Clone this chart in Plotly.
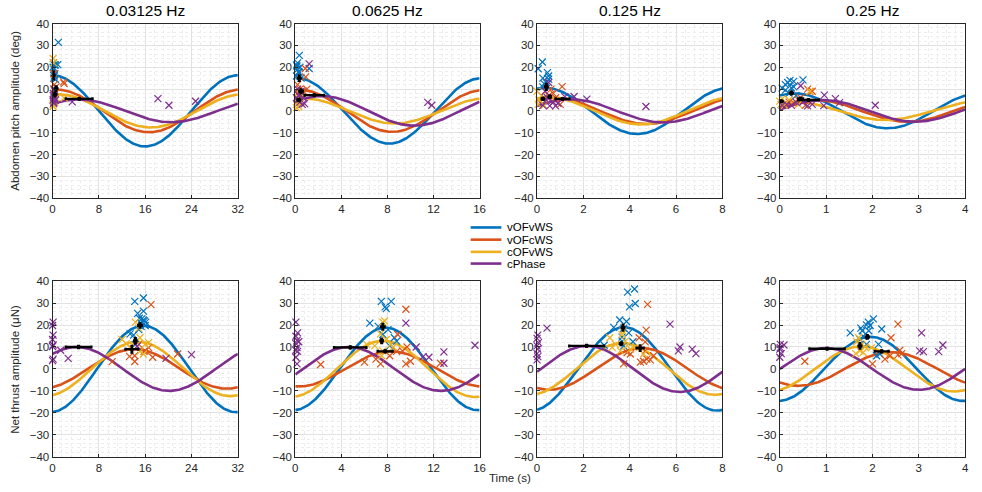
import numpy as np
import plotly.graph_objects as go

# ---------------- data ----------------
freq_labels = ["0.03125 Hz", "0.0625 Hz", "0.125 Hz", "0.25 Hz"]
periods = [32, 16, 8, 4]
x_ticks = [[0, 8, 16, 24, 32], [0, 4, 8, 12, 16], [0, 2, 4, 6, 8], [0, 1, 2, 3, 4]]
y_ticks = [-40, -30, -20, -10, 0, 10, 20, 30, 40]
series_names = ["vOFvWS", "vOFcWS", "cOFvWS", "cPhase"]
series_colors = ["#0072BD", "#D95319", "#EDB120", "#7E2F8E"]
row_labels = ["Abdomen pitch amplitude (deg)", "Net thrust amplitude (\u03bcN)"]

# fitted sinusoid amplitude and phase (fraction of period at peak), per frequency
pitch_amp_vOFvWS = [16.3, 15.0, 10.6, 8.0]
pitch_amp_vOFcWS = [9.8, 9.6, 6.0, 5.0]
pitch_amp_cOFvWS = [7.6, 5.8, 6.2, 4.2]
pitch_amp_cPhase = [5.2, 6.8, 5.3, 5.0]
pitch_ph_vOFvWS = [0.0, 0.01, 0.04, 0.08]
pitch_ph_vOFcWS = [0.02, 0.025, 0.09, 0.19]
pitch_ph_cOFvWS = [0.03, 0.04, 0.06, 0.07]
pitch_ph_cPhase = [0.14, 0.145, 0.18, 0.23]

thrust_amp_vOFvWS = [19.7, 18.8, 19.0, 14.6]
thrust_amp_vOFcWS = [9.0, 8.0, 9.5, 7.7]
thrust_amp_cOFvWS = [12.4, 12.8, 11.8, 10.3]
thrust_amp_cPhase = [10.0, 10.0, 10.5, 9.5]
thrust_ph_vOFvWS = [0.49, 0.49, 0.47, 0.49]
thrust_ph_vOFcWS = [0.44, 0.52, 0.565, 0.6]
thrust_ph_cOFvWS = [0.46, 0.475, 0.46, 0.44]
thrust_ph_cPhase = [0.13, 0.29, 0.27, 0.25]

# individual trials (time of peak, amplitude) per frequency
pitch_vOFvWS_t = [[0.3, 0.1, 0.5, 1.0, 0.2, 0.4, 0.9, 0.2, 0.5, 0.3, 0.15],
                  [0.35, 0.1, 0.2, 0.3, 0.4, 0.1, 0.5, 0.2, 1.2, 0.3, 0.15],
                  [0.05, 0.23, 0.25, 0.45, 0.5, 0.4, 0.25, 0.5, 0.3],
                  [0.05, 0.12, 0.17, 0.22, 0.3, 0.12, 0.2, 0.3, 0.5, 0.35, 0.25]]
pitch_vOFvWS_v = [[21, 20, 21, 31.4, 19, 17, 21.2, 15, 14.5, 16, 22],
                  [25.4, 21, 19, 18, 20, 16, 15, 22, 19.4, 17.5, 20.5],
                  [19.3, 22.4, 15, 17.5, 16, 13, 11, 14.5, 12.5],
                  [10.5, 12, 13, 14, 13.5, 9.5, 8, 11, 14.2, 7, 10.5]]
pitch_vOFcWS_t = [[0.3, 0.2, 1.9, 2.0, 0.5, 0.3, 0.2, 0.6],
                  [0.2, 0.4, 0.7, 0.87, 0.9, 0.2, 0.5, 0.3, 1.0],
                  [0.1, 0.3, 0.5, 1.08, 0.7, 0.8, 1.0, 0.6],
                  [0.1, 0.2, 0.4, 0.55, 0.6, 0.65, 0.7, 0.45, 0.3]]
pitch_vOFcWS_v = [[12, 10, 13.3, 12.5, 8, 6, 17, 11],
                  [12, 10, 9, 19.4, 15.6, 8, 7, 5, 10],
                  [5, 6, 7, 11.1, 8, 6, 3, 10],
                  [3, 4, 5, 2.5, 10, 8.8, 9, 6, 3.5]]
pitch_cOFvWS_t = [[0.1, 0.2, 0.3, 0.1, 0.5, 2.0, 0.1, 0.4],
                  [0.1, 0.2, 0.3, 0.5, 0.4, 0.1],
                  [0.0, 0.05, 0.1, 0.2, 0.15, 0.3, 0.4],
                  [0.0, 0.02, 0.05, 0.1, 0.65, 0.4, 0.2]]
pitch_cOFvWS_v = [[24, 22, 8, 3, 6, 5.9, 2, 4],
                  [3, 6, 2, 4, 8, 1.5],
                  [9, 3, 5, 7, 4, 2.5, 5],
                  [4.5, 3, 5.5, 2.5, 9, 3, 5]]
pitch_cPhase_t = [[0.1, 0.2, 0.3, 0.1, 0.2, 0.5, 3.4, 18.2, 20.1, 24.7, 0.3, 0.4, 0.15],
                  [0.2, 0.3, 0.4, 0.1, 0.6, 0.8, 1.2, 0.5, 0.7, 11.5, 11.85, 0.2],
                  [0.25, 0.4, 0.5, 0.55, 0.7, 0.8, 0.9, 1.2, 1.6, 2.15, 4.7, 0.35, 0.45],
                  [0.05, 0.15, 0.25, 0.35, 0.45, 0.6, 0.96, 0.95, 1.2, 1.29, 2.06, 0.5, 0.7]]
pitch_cPhase_v = [[5, 4, 6, 7, 3.5, 5, 4.1, 5.6, 2.6, 4.4, 10, 9, 8],
                  [5, 7, 4, 6, 3, 3.3, 21.5, 9, 6, 3.9, 2.6, 10],
                  [2.5, 5, 13, 2.3, 4, 2.3, 3.5, 6.5, 6.6, 5.4, 2.0, 9, 6],
                  [2.5, 3, 2.5, 4, 11.5, 2.3, 7.2, 2.4, 5.6, 3.8, 2.6, 4, 3]]

thrust_vOFvWS_t = [[14.2, 15.7, 14.7, 15.7, 15.0, 15.3, 15.7, 15.9, 15.3, 16.0, 13.4, 14.0, 14.9, 15.4, 16.1, 14.3],
                   [7.47, 8.33, 7.9, 7.8, 6.47, 7.2, 8.6, 8.05, 7.6, 8.2, 8.8],
                   [3.91, 4.21, 4.24, 3.99, 3.57, 3.86, 3.31, 3.74, 3.96, 3.67, 4.14, 3.74, 2.9, 3.67],
                   [2.02, 1.91, 1.87, 1.95, 1.75, 1.78, 1.52, 2.2, 1.92, 1.8, 1.73, 1.87, 2.13, 2.09, 2.16]]
thrust_vOFvWS_v = [[30.8, 32.3, 25.3, 26.3, 23.1, 20.9, 22.3, 21.9, 19.4, 19.8, 16.0, 15.4, 17.9, 22.8, 21.3, 11.2],
                   [30.8, 30.8, 27.5, 28.3, 20.9, 19.4, 14.2, 17.9, 15.7, 10.5, 12.7],
                   [35.0, 36.4, 29.8, 28.3, 22.3, 21.6, 18.9, 18.6, 16.4, 14.5, 12.4, 10.5, 10.8, 12.7],
                   [22.8, 21.3, 20.1, 19.8, 18.6, 17.4, 16.4, 18.2, 17.4, 14.9, 13.4, 11.2, 11.2, 6.0, 6.8]]
thrust_vOFcWS_t = [[17.0, 14.2, 14.2, 13.3, 15.8, 17.3, 16.6, 10.3, 21.6, 14.9, 16.0],
                   [9.6, 8.9, 2.2, 6.0, 7.0, 7.4, 8.2, 9.6, 10.0, 9.7, 9.3, 12.6, 8.8],
                   [4.77, 4.71, 4.41, 4.67, 3.74, 4.46, 4.6, 4.74, 4.89, 5.03, 3.89, 4.03, 4.67],
                   [2.55, 2.4, 0.54, 2.0, 2.27, 2.38, 2.59, 2.55, 2.63]]
thrust_vOFcWS_v = [[29.3, 6.0, 3.4, 5.7, 8.0, 5.3, 9.7, 3.3, 6.8, 11.2, 8.3],
                   [27.2, 15.7, 2.0, 3.1, 4.5, 2.3, 6.0, 2.3, 3.5, 10.0, 8.2, 2.6, 8.0],
                   [29.4, 17.7, 14.2, 12.3, 2.3, 3.1, 3.5, 4.5, 4.1, 6.0, 7.5, 6.8, 8.2],
                   [20.4, 14.2, 3.5, 2.3, 4.5, 6.0, 8.5, 6.4, 7.0]]
thrust_cOFvWS_t = [[12.0, 12.7, 14.3, 14.9, 15.1, 15.7, 13.4, 16.0, 15.1, 16.6],
                   [6.2, 7.4, 7.6, 7.75, 7.9, 6.9, 8.3, 8.5, 7.6, 7.5],
                   [3.14, 3.24, 3.39, 3.67, 3.71, 3.81, 3.89, 3.6, 4.03, 4.17, 4.6],
                   [1.7, 1.66, 1.77, 1.64, 1.73, 1.84, 1.98, 1.8]]
thrust_cOFvWS_v = [[13.4, 11.5, 21.3, 18.6, 8.0, 6.8, 10.0, 11.2, 14.2, 12.0],
                   [11.2, 16.0, 21.3, 21.9, 13.4, 10.5, 11.2, 10.0, 8.2, 6.0],
                   [14.2, 9.8, 11.2, 15.7, 17.2, 12.7, 10.5, 8.2, 9.0, 9.7, 6.8],
                   [14.2, 12.4, 11.2, 7.0, 8.2, 10.0, 9.7, 7.5]]
thrust_cPhase_t = [[0.1, 0.0, 0.1, 0.0, 0.1, 0.0, 0.1, 0.0, 1.4, 2.7, 19.6, 24.0, 14.6],
                   [0.05, 0.2, 0.05, 0.15, 0.3, 0.05, 0.15, 0.05, 0.2, 0.05, 0.15, 9.6, 10.5, 11.1, 11.6, 12.9, 12.9, 15.6],
                   [0.03, 0.0, 0.06, 0.0, 0.03, 0.0, 0.03, 0.0, 0.43, 5.74, 6.1, 6.17, 6.7, 6.86],
                   [0.01, 0.09, 0.0, 0.03, 0.0, 0.01, 3.06, 3.02, 3.1, 3.43, 3.52]]
thrust_cPhase_v = [[21.3, 19.8, 15.4, 13.4, 10.9, 10.2, 4.5, 3.8, 8.5, 4.8, 4.8, 6.5, 10.3],
                   [21.3, 16.4, 14.9, 13.0, 12.4, 11.5, 9.7, 8.5, 8.0, 5.3, 2.3, 20.9, 10.0, 5.6, 5.3, 7.8, 2.6, 10.8],
                   [15.4, 13.9, 12.0, 10.5, 9.0, 7.0, 5.6, 4.1, 18.6, 20.4, 8.2, 10.0, 9.0, 7.0],
                   [11.2, 10.9, 9.0, 7.0, 5.3, 9.7, 16.4, 8.2, 7.9, 7.9, 10.9]]

# means with error (t, value, t-error, value-error) per frequency
pitch_mean_t = {"vOFvWS": [0.15, 0.35, 0.4, 0.25], "vOFcWS": [0.6, 0.5, 0.55, 0.45],
                "cOFvWS": [0.4, 0.3, 0.25, 0.03], "cPhase": [4.6, 1.65, 1.1, 0.62]}
pitch_mean_v = {"vOFvWS": [16.3, 15.0, 11.0, 8.2], "vOFcWS": [10.2, 9.0, 6.5, 5.5],
                "cOFvWS": [7.5, 5.0, 5.5, 4.4], "cPhase": [5.5, 7.2, 5.5, 5.0]}
pitch_mean_et = {"vOFvWS": [0.15, 0.1, 0.05, 0.03], "vOFcWS": [0.2, 0.15, 0.05, 0.05],
                 "cOFvWS": [0.2, 0.1, 0.05, 0.03], "cPhase": [2.3, 0.85, 0.3, 0.22]}
pitch_mean_ev = {"vOFvWS": [1.8, 1.2, 1.3, 0.6], "vOFcWS": [1.0, 0.8, 0.5, 0.4],
                 "cOFvWS": [0.8, 0.5, 0.4, 0.3], "cPhase": [0.3, 0.3, 0.3, 0.3]}
thrust_mean_t = {"vOFvWS": [15.1, 7.6, 3.71, 1.89], "vOFcWS": [13.7, 7.8, 4.45, 2.2],
                 "cOFvWS": [14.3, 7.5, 3.63, 1.73], "cPhase": [4.5, 4.77, 2.14, 1.02]}
thrust_mean_v = {"vOFvWS": [19.8, 19.2, 18.8, 14.6], "vOFcWS": [9.0, 8.0, 9.5, 8.0],
                 "cOFvWS": [12.8, 12.8, 11.5, 10.5], "cPhase": [10.0, 9.8, 10.5, 9.2]}
thrust_mean_et = {"vOFvWS": [0.3, 0.15, 0.05, 0.03], "vOFcWS": [1.1, 0.65, 0.15, 0.15],
                  "cOFvWS": [0.2, 0.1, 0.05, 0.03], "cPhase": [2.2, 1.4, 0.75, 0.38]}
thrust_mean_ev = {"vOFvWS": [1.0, 1.3, 1.3, 0.8], "vOFcWS": [1.5, 0.4, 1.2, 0.4],
                  "cOFvWS": [1.2, 1.0, 0.6, 1.2], "cPhase": [0.5, 0.4, 0.4, 0.3]}

# ---------------- assembly ----------------
rows = [
    dict(amp=[pitch_amp_vOFvWS, pitch_amp_vOFcWS, pitch_amp_cOFvWS, pitch_amp_cPhase],
         ph=[pitch_ph_vOFvWS, pitch_ph_vOFcWS, pitch_ph_cOFvWS, pitch_ph_cPhase],
         pt=[pitch_vOFvWS_t, pitch_vOFcWS_t, pitch_cOFvWS_t, pitch_cPhase_t],
         pv=[pitch_vOFvWS_v, pitch_vOFcWS_v, pitch_cOFvWS_v, pitch_cPhase_v],
         mt=pitch_mean_t, mv=pitch_mean_v, met=pitch_mean_et, mev=pitch_mean_ev),
    dict(amp=[thrust_amp_vOFvWS, thrust_amp_vOFcWS, thrust_amp_cOFvWS, thrust_amp_cPhase],
         ph=[thrust_ph_vOFvWS, thrust_ph_vOFcWS, thrust_ph_cOFvWS, thrust_ph_cPhase],
         pt=[thrust_vOFvWS_t, thrust_vOFcWS_t, thrust_cOFvWS_t, thrust_cPhase_t],
         pv=[thrust_vOFvWS_v, thrust_vOFcWS_v, thrust_cOFvWS_v, thrust_cPhase_v],
         mt=thrust_mean_t, mv=thrust_mean_v, met=thrust_mean_et, mev=thrust_mean_ev),
]

W, H = 982, 492
x_px = [(50, 237), (295, 481), (539, 726), (784, 971)]
y_px = [(18, 197), (282, 462)]
FONT = "Liberation Sans, Arial, sans-serif"
AX_COLOR = "#262626"

fig = go.Figure()
layout = dict(
    width=W, height=H, margin=dict(l=0, r=0, t=0, b=0),
    paper_bgcolor="white", plot_bgcolor="white", showlegend=False,
    font=dict(family=FONT, size=11.5, color=AX_COLOR),
)
annotations = []
shapes = []

for r, row in enumerate(rows):
    for c in range(4):
        k = r * 4 + c + 1
        xa = "x" if k == 1 else f"x{k}"
        ya = "y" if k == 1 else f"y{k}"
        T = periods[c]
        tt = np.linspace(0, T, 240)
        # fitted curves
        for s in range(4):
            A = row["amp"][s][c]
            p = row["ph"][s][c]
            yy = A * np.cos(2 * np.pi * (tt / T - p))
            fig.add_trace(go.Scatter(x=tt, y=yy, mode="lines", xaxis=xa, yaxis=ya,
                                     line=dict(color=series_colors[s], width=2.6),
                                     hoverinfo="skip"))
        # trials
        for s in range(4):
            fig.add_trace(go.Scatter(x=row["pt"][s][c], y=row["pv"][s][c], mode="markers",
                                     xaxis=xa, yaxis=ya, cliponaxis=False,
                                     marker=dict(symbol="x-thin", size=7, color=series_colors[s],
                                                 line=dict(width=1.2, color=series_colors[s]))))
        # means
        for s, name in enumerate(series_names):
            fig.add_trace(go.Scatter(
                x=[row["mt"][name][c]], y=[row["mv"][name][c]], mode="markers",
                xaxis=xa, yaxis=ya, cliponaxis=False,
                marker=dict(size=4, color="black"),
                error_x=dict(type="data", array=[row["met"][name][c]], color="black",
                             thickness=2.4, width=1.5),
                error_y=dict(type="data", array=[row["mev"][name][c]], color="black",
                             thickness=2.4, width=1.5)))

        xd = [x_px[c][0] / W, x_px[c][1] / W]
        yd = [1 - y_px[r][1] / H, 1 - y_px[r][0] / H]
        xname = "xaxis" if k == 1 else f"xaxis{k}"
        yname = "yaxis" if k == 1 else f"yaxis{k}"
        xt = x_ticks[c]
        layout[xname] = dict(
            domain=xd, anchor=ya, range=[0, T], tickvals=xt, ticktext=[str(v) for v in xt],
            showline=True, mirror=True, linecolor=AX_COLOR, linewidth=1,
            ticks="inside", ticklen=3, tickcolor=AX_COLOR,
            showgrid=True, gridcolor="#e2e2e2", gridwidth=1, zeroline=False,
            tickfont=dict(size=11.5, color=AX_COLOR),
            minor=dict(dtick=(xt[1] - xt[0]) / 5, tick0=0, showgrid=True,
                       gridcolor="#ededed", griddash="dot", gridwidth=1, ticks=""),
        )
        layout[yname] = dict(
            domain=yd, anchor=xa, range=[-40, 40], tickvals=y_ticks,
            showline=True, mirror=True, linecolor=AX_COLOR, linewidth=1,
            ticks="inside", ticklen=3, tickcolor=AX_COLOR,
            showgrid=True, gridcolor="#e2e2e2", gridwidth=1, zeroline=False,
            tickfont=dict(size=11.5, color=AX_COLOR),
            minor=dict(dtick=2, tick0=0, showgrid=True,
                       gridcolor="#ededed", griddash="dot", gridwidth=1, ticks=""),
        )
        if r == 0:
            annotations.append(dict(text=freq_labels[c], x=(xd[0] + xd[1]) / 2, y=1 - 5 / H,
                                    xref="paper", yref="paper", showarrow=False,
                                    xanchor="center", yanchor="middle",
                                    font=dict(size=15.5, color="black")))

# row labels
for r in range(2):
    yc = 1 - (y_px[r][0] + y_px[r][1]) / 2 / H
    annotations.append(dict(text=row_labels[r], x=12 / W, y=yc, xref="paper", yref="paper",
                            showarrow=False, textangle=-90, xanchor="center", yanchor="middle",
                            font=dict(size=11.5, color=AX_COLOR)))
annotations.append(dict(text="Time (s)", x=512 / W, y=0, xref="paper", yref="paper",
                        showarrow=False, xanchor="center", yanchor="bottom",
                        font=dict(size=11.5, color=AX_COLOR)))

# legend (drawn in the gap between the rows)
leg_y = [227, 239.5, 252, 264]
for s in range(4):
    shapes.append(dict(type="line", xref="paper", yref="paper",
                       x0=472 / W, x1=503 / W, y0=1 - leg_y[s] / H, y1=1 - leg_y[s] / H,
                       line=dict(color=series_colors[s], width=2.6)))
    annotations.append(dict(text=series_names[s], x=507 / W, y=1 - leg_y[s] / H,
                            xref="paper", yref="paper", showarrow=False,
                            xanchor="left", yanchor="middle",
                            font=dict(size=11.5, color="black")))

layout["annotations"] = annotations
layout["shapes"] = shapes
fig.update_layout(**layout)
fig.write_html("out.html")
